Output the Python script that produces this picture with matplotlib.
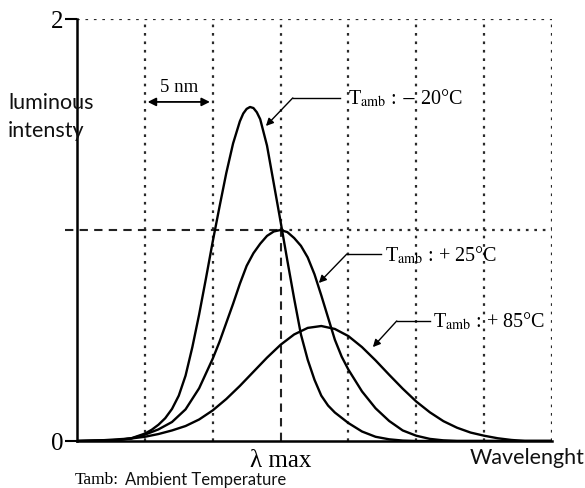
# LED luminous intensity vs wavelength at three ambient temperatures

import matplotlib
matplotlib.use("Agg")
import matplotlib.pyplot as plt

plt.rcParams['mathtext.fontset'] = 'stix'

# curve data (x in nm from the left edge, y in relative intensity)
x_m20 = [0, 2, 3, 4, 5, 5.5, 6, 6.5, 7, 7.5, 8, 8.5, 9, 9.5, 10, 10.5, 11, 11.5, 12, 12.25,
         12.5, 12.75, 13, 13.25, 13.5, 14, 14.5, 15, 15.5, 16, 16.5, 17, 17.5, 18, 18.5,
         19, 20, 21, 22, 23, 24, 25, 35]
y_m20 = [0, 0.002, 0.005, 0.013, 0.035, 0.053, 0.077, 0.108, 0.152, 0.215, 0.31, 0.445,
         0.60, 0.77, 0.945, 1.11, 1.27, 1.41, 1.515, 1.552, 1.574, 1.583, 1.578, 1.558,
         1.525, 1.40, 1.22, 1.04, 0.855, 0.675, 0.505, 0.385, 0.29, 0.215, 0.168, 0.135,
         0.085, 0.045, 0.02, 0.008, 0.002, 0, 0]

x_p25 = [0, 3, 4, 5, 6, 7, 8, 9, 10, 10.5, 11, 11.5, 12, 12.5, 13, 13.5, 14, 14.5, 15,
         15.5, 16, 16.5, 17, 17.5, 18, 18.5, 19, 19.5, 20, 21, 22, 23, 24, 25, 26, 27, 28, 35]
y_p25 = [0, 0.004, 0.012, 0.03, 0.055, 0.09, 0.15, 0.25, 0.39, 0.47, 0.56, 0.65, 0.745,
         0.83, 0.89, 0.935, 0.972, 0.993, 1.0, 0.99, 0.962, 0.925, 0.87, 0.79, 0.69,
         0.585, 0.48, 0.40, 0.338, 0.235, 0.155, 0.095, 0.05, 0.025, 0.01, 0.003, 0, 0]

x_p85 = [0, 2, 4, 5, 6, 7, 8, 9, 10, 11, 12, 13, 14, 15, 16, 17, 18, 19, 20, 21, 22,
         23, 24, 25, 26, 27, 28, 29, 30, 31, 32, 33, 35]
y_p85 = [0, 0.004, 0.012, 0.02, 0.033, 0.05, 0.071, 0.102, 0.145, 0.199, 0.261, 0.328,
         0.395, 0.456, 0.505, 0.536, 0.545, 0.531, 0.497, 0.445, 0.382, 0.314, 0.248,
         0.187, 0.136, 0.094, 0.063, 0.04, 0.025, 0.013, 0.005, 0, 0]

labels = [r'T$_{\mathrm{amb}}$ : $-$ 20°C', r'T$_{\mathrm{amb}}$ : + 25°C', r'T$_{\mathrm{amb}}$ : + 85°C']
lambda_max = 15
grid_x = [5, 10, 20, 25, 30, 35]

fig = plt.figure(figsize=(5.85, 4.89), dpi=100)
ax = fig.add_axes([77/585, 47/489, 475/585, 422/489])
ax.set_xlim(0, 35)
ax.set_ylim(0, 2)

# grid: dotted, with the dashed crosshair to the +25 peak
dot = (0, (1.2, 2.6))
gc = '#2a2a2a'
for gx in grid_x:
    ax.plot([gx, gx], [0, 2], color=gc, lw=1.6, ls=dot)
ax.plot([0, 35], [2, 2], color=gc, lw=1.6, ls=dot)
ax.plot([lambda_max, lambda_max], [1, 2], color=gc, lw=1.6, ls=dot)
ax.plot([lambda_max, 35], [1, 1], color=gc, lw=1.6, ls=dot)
ax.plot([-0.9, lambda_max], [1, 1], color='#222222', lw=1.5, ls=(0, (4, 3)), clip_on=False)
ax.plot([lambda_max, lambda_max], [0, 1], color='#222222', lw=1.5, ls=(0, (4, 3)))

# curves
for xs, ys in [(x_m20, y_m20), (x_p25, y_p25), (x_p85, y_p85)]:
    ax.plot(xs, ys, color='black', lw=1.7, solid_joinstyle='round')

# spines and ticks
for s in ['top', 'right']:
    ax.spines[s].set_visible(False)
for s in ['left', 'bottom']:
    ax.spines[s].set_linewidth(1.8)
ax.set_yticks([0, 2], ['0', '2'], family='Liberation Serif', fontsize=18)
ax.tick_params(axis='y', length=8.5, width=1.5, pad=1)
ax.set_xticks([lambda_max], ['λ max'], family='Liberation Serif', fontsize=18)
ax.tick_params(axis='x', length=0, pad=6)

# 5 nm span
ax.annotate('', xy=(5, 1.607), xytext=(10, 1.607),
            arrowprops=dict(arrowstyle='<|-|>', color='black', lw=1.3, mutation_scale=12))
ax.text(7.5, 1.68, '5 nm', family='Liberation Serif', fontsize=13.5, ha='center', va='center')

# temperature labels with leader lines
leaders = [((13.92, 1.493), (15.9, 1.626), 19.4, 19.96, 1.626),
           ((17.82, 0.749), (19.88, 0.886), 22.4, 22.68, 0.886),
           ((21.8, 0.445), (23.56, 0.569), 26.0, 26.2, 0.569)]
for (tip, elbow, xend, xt, yt), lab in zip(leaders, labels):
    ax.plot([elbow[0], xend], [elbow[1], elbow[1]], color='black', lw=1.0)
    ax.annotate('', xy=tip, xytext=elbow,
                arrowprops=dict(arrowstyle='-|>', color='black', lw=1.0,
                                mutation_scale=11, shrinkA=0, shrinkB=0))
    ax.text(xt, yt, lab, family='Liberation Serif', fontsize=14.5, ha='left', va='center')

# sans labels
fig.text(8/585, 1 - 103/489, 'luminous', family='Lato', fontsize=15.5, color='#111111', va='center')
fig.text(8/585, 1 - 131/489, 'intensty', family='Lato', fontsize=15.5, color='#111111', va='center')
fig.text(470/585, 1 - 458/489, 'Wavelenght', family='Lato', fontsize=15.5, color='#111111', va='center')
fig.text(75/585, 1 - 480/489, 'Tamb:', family='Liberation Serif', fontsize=12.5, va='center')
fig.text(125/585, 1 - 480/489, 'Ambient Temperature', family='Lato', fontsize=12, color='#111111', va='center')

fig.savefig('out.png', dpi=100)
